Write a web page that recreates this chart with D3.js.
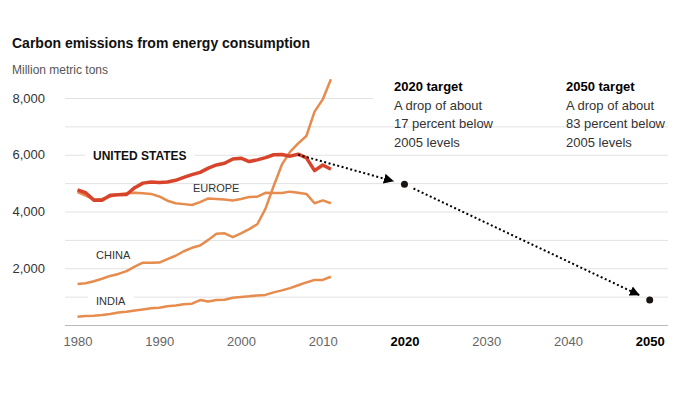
<!DOCTYPE html>
<html>
<head>
<meta charset="utf-8">
<script src="https://cdn.jsdelivr.net/npm/d3@7"></script>
<style>
  body { margin: 0; background: #fff; font-family: Arial, "Liberation Sans", sans-serif; }
  .grid line { stroke: #e2e2e2; }
  .grid .domain { display: none; }
  .y-lab text { fill: #333; font-size: 13px; }
  .x-lab text { fill: #666; font-size: 13px; }
  .x-lab .domain { stroke: #bbb; }
  .label { font-size: 11px; fill: #333; }
</style>
</head>
<body>
<script>
// Carbon emissions from energy consumption, million metric tons

var years = d3.range(1980, 2012);

var usValues = [4760, 4660, 4400, 4400, 4570, 4590, 4600, 4840, 5000, 5040,
                5020, 5040, 5100, 5200, 5300, 5380, 5530, 5640, 5700, 5850,
                5880, 5760, 5820, 5900, 6000, 6010, 5950, 6020, 5890, 5440,
                5640, 5490];
var europeValues = [4680, 4560, 4420, 4440, 4530, 4610, 4640, 4660, 4640, 4620,
                    4530, 4380, 4290, 4260, 4230, 4330, 4460, 4440, 4420, 4390,
                    4440, 4510, 4520, 4660, 4650, 4650, 4700, 4660, 4620, 4290,
                    4390, 4290];
var chinaValues = [1445, 1470, 1540, 1630, 1730, 1800, 1900, 2060, 2195, 2195,
                   2200, 2320, 2440, 2600, 2720, 2800, 3000, 3220, 3230, 3100,
                   3230, 3380, 3550, 4100, 4900, 5650, 6100, 6400, 6660, 7520,
                   7950, 8660];
var indiaValues = [290, 320, 330, 350, 390, 440, 470, 510, 550, 590,
                   610, 660, 690, 730, 750, 880, 830, 880, 890, 960,
                   990, 1010, 1040, 1060, 1150, 1220, 1300, 1400, 1500, 1590,
                   1590, 1700];

// target path: from recent US level to the 2020 and 2050 goals
var targetYears = [2007, 2020, 2050];
var targetValues = [6000, 4960, 880];

var xTicks = [1980, 1990, 2000, 2010, 2020, 2030, 2040, 2050];
var boldYears = [2020, 2050];
var yTicks = [1000, 2000, 3000, 4000, 5000, 6000, 7000, 8000];

var margin = {top: 98, left: 65};
var width = 603;
var height = 227;

var svg = d3.select("body").append("svg")
    .attr("width", 700)
    .attr("height", 394);

svg.append("text")
    .attr("x", 12).attr("y", 48)
    .style("font-size", "14px").style("font-weight", "bold").style("fill", "#111")
    .text("Carbon emissions from energy consumption");

svg.append("text")
    .attr("x", 12).attr("y", 74)
    .style("font-size", "12px").style("fill", "#555")
    .text("Million metric tons");

var g = svg.append("g")
    .attr("transform", "translate(" + margin.left + "," + margin.top + ")");

var x = d3.scaleLinear().domain([1980, 2050]).range([12.5, 584.7]);
var y = d3.scaleLinear().domain([0, 8000]).range([height, 0]);

// gridlines
g.append("g")
    .attr("class", "grid")
    .call(d3.axisLeft(y).tickValues(yTicks).tickSize(-width).tickFormat(""));

// white box behind annotations
g.append("rect")
    .attr("x", 308).attr("y", -28)
    .attr("width", 300).attr("height", 50)
    .attr("fill", "#fff");

// y labels
var yAxis = g.append("g")
    .attr("class", "y-lab")
    .call(d3.axisLeft(y).tickValues([2000, 4000, 6000, 8000]).tickSize(0).tickPadding(20)
        .tickFormat(d3.format(",")));
yAxis.select(".domain").remove();

// x axis
var xAxis = g.append("g")
    .attr("class", "x-lab")
    .attr("transform", "translate(0," + height + ")")
    .call(d3.axisBottom(x).tickValues(xTicks).tickSize(0).tickPadding(12)
        .tickFormat(d3.format("d")));
xAxis.select(".domain").attr("d", "M0,0.5H" + width);
xAxis.selectAll(".tick text")
    .filter(function(d) { return boldYears.indexOf(d) >= 0; })
    .style("font-weight", "bold").style("fill", "#000");

// series labels with white backing
function seriesLabel(text, lx, ly, opts) {
    var t = g.append("text")
        .attr("class", "label")
        .attr("x", lx).attr("y", ly)
        .text(text);
    if (opts && opts.bold) t.style("font-weight", "bold").style("font-size", "12px").style("fill", "#111");
    if (opts && opts.box) {
        var b = t.node().getBBox();
        g.insert("rect", "text.label")
            .attr("x", b.x - 8).attr("y", b.y)
            .attr("width", b.width + 16).attr("height", b.height)
            .attr("fill", "#fff");
    }
}

var line = d3.line()
    .x(function(d, i) { return x(years[i]); })
    .y(function(d) { return y(d); });

var orange = "#e68c4e";
[indiaValues, chinaValues, europeValues].forEach(function(vals) {
    g.append("path")
        .datum(vals)
        .attr("fill", "none")
        .attr("stroke", orange)
        .attr("stroke-width", 2.5)
        .attr("stroke-linejoin", "round")
        .attr("d", line);
});

g.append("path")
    .datum(usValues)
    .attr("fill", "none")
    .attr("stroke", "#d8442b")
    .attr("stroke-width", 3.5)
    .attr("stroke-linejoin", "round")
    .attr("d", line);

seriesLabel("UNITED STATES", 28, 62, {bold: true, box: true});
seriesLabel("EUROPE", 128, 94);
seriesLabel("CHINA", 31, 161);
seriesLabel("INDIA", 31, 207, {box: true});

// target arrows
svg.append("defs").append("marker")
    .attr("id", "arrow")
    .attr("viewBox", "0 0 10 10")
    .attr("refX", 10).attr("refY", 5)
    .attr("markerWidth", 5).attr("markerHeight", 5)
    .attr("markerUnits", "strokeWidth")
    .attr("orient", "auto")
    .append("path")
    .attr("d", "M0,0L10,5L0,10Z")
    .attr("fill", "#000");

var pts = targetYears.map(function(yr, i) { return [x(yr), y(targetValues[i])]; });
for (var i = 0; i < pts.length - 1; i++) {
    var a = pts[i], b = pts[i + 1];
    var dx = b[0] - a[0], dy = b[1] - a[1];
    var len = Math.sqrt(dx * dx + dy * dy);
    var s0 = i === 0 ? 0 : 10, s1 = 11;
    g.append("line")
        .attr("x1", a[0] + dx / len * s0).attr("y1", a[1] + dy / len * s0)
        .attr("x2", b[0] - dx / len * s1).attr("y2", b[1] - dy / len * s1)
        .attr("stroke", "#000")
        .attr("stroke-width", 2)
        .attr("stroke-dasharray", "2,2.5")
        .attr("marker-end", "url(#arrow)");
}
g.selectAll(".target")
    .data(pts.slice(1))
    .enter().append("circle")
    .attr("class", "target")
    .attr("cx", function(d) { return d[0]; })
    .attr("cy", function(d) { return d[1]; })
    .attr("r", 3.5)
    .attr("fill", "#1a1410");

// annotations
var notes = [
    {x: 394, title: "2020 target", lines: ["A drop of about", "17 percent below", "2005 levels"]},
    {x: 566, title: "2050 target", lines: ["A drop of about", "83 percent below", "2005 levels"]}
];
notes.forEach(function(n) {
    var t = svg.append("text")
        .attr("x", n.x).attr("y", 91)
        .style("font-size", "13px").style("fill", "#333");
    t.append("tspan").attr("x", n.x).style("font-weight", "bold").style("fill", "#000").text(n.title);
    n.lines.forEach(function(l) {
        t.append("tspan").attr("x", n.x).attr("dy", 18.5).text(l);
    });
});
</script>
</body>
</html>
